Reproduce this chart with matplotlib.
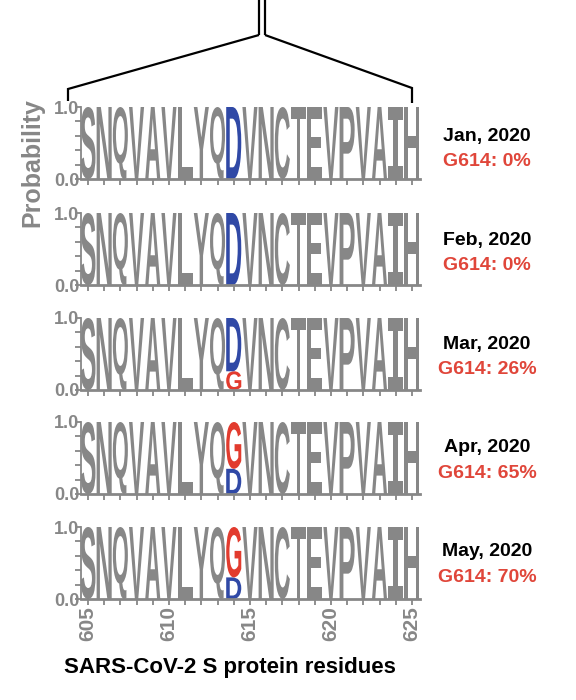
import matplotlib
matplotlib.use("Agg")
import matplotlib.pyplot as plt
from matplotlib.textpath import TextPath
from matplotlib.patches import PathPatch
from matplotlib.font_manager import FontProperties
from matplotlib.transforms import Affine2D
from matplotlib.lines import Line2D

plt.rcParams['font.family'] = ['Liberation Sans', 'DejaVu Sans']

# ---- data ----
months = ['Jan, 2020', 'Feb, 2020', 'Mar, 2020', 'Apr, 2020', 'May, 2020']
g614_pct = [0, 0, 26, 65, 70]
residues = list('SNQVAVLYQDVNCTEVPVAIH')
start_residue = 605
variant_pos = 614
xticks_major = [605, 610, 615, 620, 625]
yticks = [0.0, 1.0]
ytick_labels = ['0.0', '1.0']

# ---- style / layout ----
GRAY = '#878787'
BLUE = '#3049a6'
RED = '#e23b2e'
TXT_RED = '#e0463a'
W, H = 576, 700
panel_bottoms_px = [179, 285, 390, 494, 599]
month_y_px = [137, 240, 344, 448, 552]

fp_letter = FontProperties(family='Liberation Sans', weight='bold')
fp_serif_I = FontProperties(family='DejaVu Sans Mono', weight='bold')


def draw_letter(ax, ch, x, y0, h, color, width=0.93):
    if h <= 0:
        return
    fp = fp_serif_I if ch == 'I' else fp_letter
    tp = TextPath((0, 0), ch, size=1, prop=fp)
    bb = tp.get_extents()
    t = (Affine2D().translate(-bb.x0, -bb.y0)
         .scale(width / bb.width, h / bb.height)
         .translate(x - width / 2, y0))
    ax.add_patch(PathPatch(t.transform_path(tp), fc=color, ec='none', lw=0))


fig = plt.figure(figsize=(W / 100, H / 100), dpi=100)

def fy(py):
    return 1 - py / H

left_px, right_px = 81, 420
n = len(months)
for i in range(n):
    bottom_px = panel_bottoms_px[i]
    ax = fig.add_axes([left_px / W, fy(bottom_px), (right_px - left_px) / W, 72 / H])
    g = g614_pct[i] / 100.0
    for k, ch in enumerate(residues):
        x = start_residue + k
        if x == variant_pos:
            d = 1.0 - g
            stack = sorted([('D', d, BLUE), ('G', g, RED)], key=lambda s: s[1])
            y0 = 0.0
            for letter, h, col in stack:
                draw_letter(ax, letter, x, y0, h, col)
                y0 += h
        else:
            draw_letter(ax, ch, x, 0.0, 1.0, GRAY)
    ax.set_xlim(start_residue - 0.43, start_residue + len(residues) - 0.5)
    ax.set_ylim(0, 1.0)
    for s in ['top', 'right']:
        ax.spines[s].set_visible(False)
    ax.spines['left'].set_color(GRAY)
    ax.spines['left'].set_linewidth(1.3)
    ax.spines['bottom'].set_color(GRAY)
    ax.spines['bottom'].set_linewidth(2.0)
    ax.set_xticks(xticks_major)
    ax.set_xticks(range(start_residue, start_residue + len(residues)), minor=True)
    ax.set_yticks(yticks)
    ax.set_yticklabels(ytick_labels)
    ax.set_yticks([0.2, 0.4, 0.6, 0.8], minor=True)
    ax.tick_params(axis='both', which='both', direction='out', color=GRAY,
                   length=4, width=1.3, labelcolor=GRAY)
    ax.tick_params(axis='y', which='major', labelsize=13, pad=-3)
    for lab in ax.get_yticklabels():
        lab.set_fontweight('bold')
    if i == n - 1:
        ax.set_xticklabels([str(v) for v in xticks_major], rotation=90,
                           fontsize=15, fontweight='bold', color=GRAY)
        ax.tick_params(axis='x', which='major', pad=1)
    else:
        ax.set_xticklabels([])
    # right-side annotations
    fig.text(487 / W, fy(month_y_px[i]), months[i], ha='center', va='center',
             fontsize=14, fontweight='bold', color='black')
    fig.text(487 / W, fy(month_y_px[i] + 25), f'G614: {g614_pct[i]}%', ha='center',
             va='center', fontsize=14, fontweight='bold', color=TXT_RED)

fig.text(32 / W, fy(163), 'Probability', rotation=90, ha='center', va='center',
         fontsize=18, fontweight='bold', color=GRAY)
fig.text(230 / W, fy(667), 'SARS-CoV-2 S protein residues', ha='center',
         va='center', fontsize=16, fontweight='bold', color='black')

# bracket on top
def add_line(xs, ys):
    fig.add_artist(Line2D([x / W for x in xs], [fy(y) for y in ys],
                          color='black', lw=1.6, transform=fig.transFigure,
                          solid_capstyle='butt', solid_joinstyle='miter'))

add_line([259, 259], [0, 35])
add_line([265, 265], [0, 35])
add_line([259, 68, 68], [35, 89, 101])
add_line([265, 412, 412], [35, 88, 103])

fig.savefig('out.png', dpi=100)
